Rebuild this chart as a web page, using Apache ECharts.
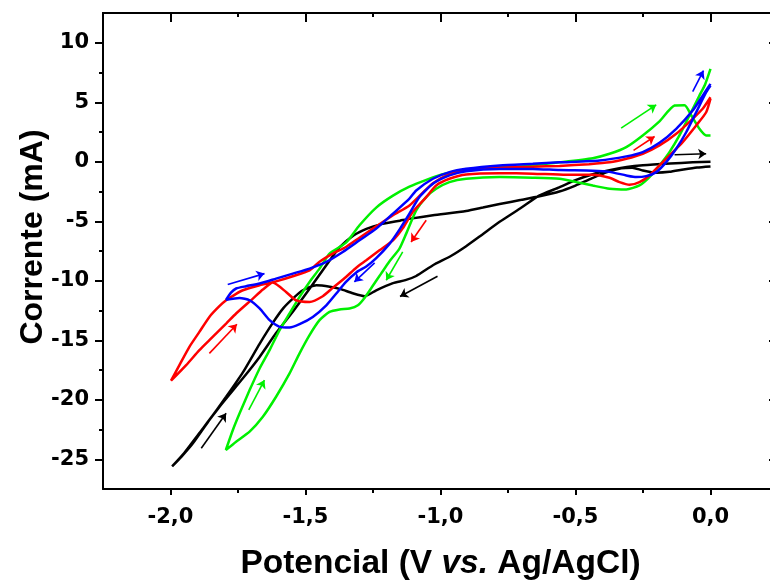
<!DOCTYPE html>
<html>
<head>
<meta charset="utf-8">
<title>Voltametria</title>
<script src="https://cdn.jsdelivr.net/npm/echarts@6/dist/echarts.min.js"></script>
<style>
    html,body{margin:0;padding:0;background:#fff;overflow:hidden;}
    #main{width:800px;height:580px;}
</style>
</head>
<body>
<div id="main"></div>
<script>
// [potencial (V), corrente (mA)] na ordem da varredura
const blackCV = [
    [0.0,0.0],[-0.066,-0.05],[-0.15,-0.15],[-0.25,-0.3],[-0.31,-0.45],[-0.37,-0.7],[-0.436,-1.05],[-0.5,-1.55],
    [-0.56,-2.15],[-0.633,-2.83],[-0.7,-3.85],[-0.781,-5.05],[-0.85,-6.2],[-0.905,-7.1],[-0.96,-7.9],[-1.028,-8.7],
    [-1.09,-9.6],[-1.13,-9.95],[-1.176,-10.2],[-1.238,-10.8],[-1.28,-11.3],[-1.325,-11.05],[-1.37,-10.7],[-1.41,-10.5],
    [-1.46,-10.38],[-1.51,-10.8],[-1.547,-11.5],[-1.582,-12.3],[-1.62,-13.5],[-1.67,-15.3],[-1.732,-17.7],[-1.794,-19.75],
    [-1.856,-21.7],[-1.917,-23.66],[-1.96,-24.8],[-1.994,-25.6],
    [-1.95,-24.5],[-1.893,-22.8],[-1.819,-20.6],[-1.732,-18.2],[-1.67,-16.4],[-1.609,-14.4],[-1.547,-12.6],[-1.485,-10.67],
    [-1.423,-8.7],[-1.374,-7.2],[-1.321,-6.18],[-1.272,-5.62],[-1.222,-5.26],[-1.15,-4.95],[-1.111,-4.78],[-1.028,-4.5],
    [-0.905,-4.14],[-0.843,-3.85],[-0.781,-3.55],[-0.7,-3.2],[-0.633,-2.9],[-0.56,-2.5],[-0.5,-2.0],[-0.44,-1.4],
    [-0.38,-0.85],[-0.33,-0.55],[-0.29,-0.5],[-0.251,-0.73],[-0.201,-0.92],[-0.152,-0.85],[-0.1,-0.65],[-0.05,-0.48],[0.0,-0.39]
];
const redCV = [
    [0.0,5.3],[-0.016,4.16],[-0.053,3.05],[-0.103,1.65],[-0.152,0.53],[-0.189,-0.31],[-0.226,-1.15],[-0.263,-1.71],
    [-0.3,-1.93],[-0.337,-1.71],[-0.374,-1.35],[-0.436,-1.1],[-0.535,-1.1],[-0.658,-1.0],[-0.781,-0.96],[-0.905,-1.07],
    [-0.967,-1.43],[-1.016,-1.99],[-1.053,-2.97],[-1.103,-4.23],[-1.14,-5.6],[-1.176,-6.6],[-1.226,-7.44],[-1.275,-8.28],
    [-1.312,-8.9],[-1.35,-9.68],[-1.399,-10.6],[-1.436,-11.3],[-1.485,-11.78],[-1.535,-11.64],[-1.572,-10.94],[-1.621,-10.15],
    [-1.658,-10.74],[-1.695,-11.5],[-1.757,-12.75],[-1.794,-13.6],[-1.856,-14.99],[-1.893,-15.83],[-1.942,-17.09],[-1.998,-18.4],
    [-1.967,-17.09],[-1.93,-15.55],[-1.893,-14.3],[-1.856,-13.04],[-1.819,-12.14],[-1.794,-11.64],
    [-1.757,-11.1],[-1.732,-10.8],[-1.67,-10.38],[-1.609,-10.05],[-1.547,-9.62],[-1.485,-9.12],[-1.448,-8.4],[-1.399,-7.72],
    [-1.35,-7.16],[-1.3,-6.38],[-1.238,-5.43],[-1.176,-4.5],[-1.115,-3.67],[-1.07,-2.7],[-1.028,-1.8],[-0.967,-1.05],
    [-0.905,-0.65],[-0.781,-0.48],[-0.658,-0.42],[-0.559,-0.35],[-0.45,-0.2],[-0.374,-0.05],[-0.312,0.25],[-0.251,0.67],
    [-0.189,1.37],[-0.127,2.35],[-0.066,3.61],[-0.029,4.45],[0.0,5.42]
];
const blueCV = [
    [0.0,6.4],[-0.016,5.84],[-0.053,4.16],[-0.09,2.48],[-0.127,1.09],[-0.164,-0.03],[-0.201,-0.87],[-0.238,-1.21],
    [-0.275,-1.29],[-0.312,-1.15],[-0.374,-0.85],[-0.436,-0.75],[-0.559,-0.7],[-0.658,-0.6],[-0.781,-0.6],[-0.905,-0.79],
    [-0.967,-1.15],[-1.028,-1.85],[-1.078,-2.97],[-1.115,-4.36],[-1.152,-5.7],[-1.189,-6.9],[-1.238,-8.1],[-1.275,-8.8],
    [-1.312,-9.3],[-1.35,-10.1],[-1.386,-11.07],[-1.423,-12.06],[-1.473,-13.04],[-1.522,-13.65],[-1.559,-13.93],[-1.596,-13.87],
    [-1.633,-13.31],[-1.67,-12.33],[-1.707,-11.64],[-1.744,-11.45],[-1.794,-11.6],
    [-1.776,-11.0],[-1.757,-10.65],[-1.72,-10.46],[-1.67,-10.23],[-1.609,-9.82],[-1.547,-9.4],[-1.485,-8.98],[-1.423,-8.42],
    [-1.362,-7.58],[-1.3,-6.6],[-1.238,-5.62],[-1.176,-4.36],[-1.115,-3.1],[-1.09,-2.41],[-1.028,-1.43],[-0.967,-0.87],
    [-0.905,-0.59],[-0.781,-0.31],[-0.658,-0.17],[-0.559,-0.05],[-0.411,0.11],[-0.312,0.45],[-0.251,0.81],[-0.189,1.59],
    [-0.127,2.77],[-0.066,4.3],[-0.029,5.56],[0.0,6.54]
];
const greenCV = [
    [0.0,7.8],[-0.02,6.5],[-0.041,5.56],[-0.078,3.89],[-0.115,2.21],[-0.152,0.81],[-0.189,-0.31],[-0.226,-1.29],
    [-0.263,-1.99],[-0.312,-2.33],[-0.374,-2.27],[-0.436,-2.0],[-0.497,-1.71],[-0.559,-1.43],[-0.658,-1.34],[-0.781,-1.29],
    [-0.905,-1.43],[-0.967,-1.71],[-1.016,-2.27],[-1.053,-2.97],[-1.09,-4.09],[-1.127,-6.04],[-1.152,-7.3],[-1.19,-8.4],
    [-1.22,-9.4],[-1.25,-10.4],[-1.28,-11.4],[-1.306,-12.06],[-1.337,-12.33],[-1.374,-12.41],[-1.411,-12.62],[-1.448,-13.31],
    [-1.485,-14.57],[-1.522,-16.1],[-1.559,-17.79],[-1.609,-19.75],[-1.658,-21.43],[-1.707,-22.68],[-1.757,-23.52],[-1.795,-24.22],
    [-1.769,-22.54],[-1.744,-21.14],[-1.707,-19.19],[-1.67,-17.37],[-1.633,-15.83],[-1.596,-14.15],[-1.559,-12.75],[-1.522,-11.36],
    [-1.485,-10.1],[-1.448,-8.98],[-1.411,-7.72],[-1.35,-6.8],[-1.3,-5.34],[-1.238,-3.85],[-1.176,-2.85],[-1.115,-2.1],
    [-1.05,-1.5],[-0.995,-1.07],[-0.9,-0.7],[-0.8,-0.5],[-0.68,-0.35],[-0.559,-0.05],[-0.436,0.3],[-0.374,0.67],
    [-0.312,1.23],[-0.251,2.21],[-0.189,3.4],[-0.133,4.72],[-0.096,4.75],[-0.071,3.89],[-0.041,2.77],[-0.016,2.21],[0.0,2.2]
];

// setas: [inicio, ponta]
const blackArrows = [[[-1.886,-24.08],[-1.794,-21.14]],[[-1.011,-9.62],[-1.15,-11.33]],[[-0.133,0.59],[-0.016,0.67]]];
const redArrows = [[[-1.856,-16.1],[-1.754,-13.65]],[[-1.053,-4.92],[-1.109,-6.74]],[[-0.285,0.95],[-0.207,2.12]]];
const blueArrows = [[[-1.788,-10.32],[-1.652,-9.4]],[[-1.244,-8.5],[-1.319,-10.1]],[[-0.066,5.9],[-0.026,7.66]]];
const greenArrows = [[[-1.71,-20.86],[-1.652,-18.35]],[[-1.14,-7.58],[-1.201,-9.96]],[[-0.331,2.82],[-0.201,4.78]]];

const xMajor = [-2.0,-1.5,-1.0,-0.5,0.0];
const xMinor = [-1.75,-1.25,-0.75,-0.25];
const yMajor = [-25,-20,-15,-10,-5,0,5,10];
const yMinor = [-22.5,-17.5,-12.5,-7.5,-2.5,2.5,7.5];

!(function(){
    const cv = {
        xRange:[-2.25,0.25],
        yRange:[-27.5,12.5],
        labelFont:{fontFamily:'DejaVu Sans',fontWeight:'bold',fontSize:21,color:'#000'},
        init(){
            this.chart = echarts.init(document.getElementById('main'),null,{renderer:'canvas'});
            this.chart.setOption({
                animation:false,
                backgroundColor:'#fff',
                grid:{left:103,top:13,right:22,bottom:91,containLabel:false,outerBoundsMode:'none'},
                xAxis:[
                    this.axis('bottom',this.xRange,xMajor,6,false,true),
                    this.axis('bottom',this.xRange,xMinor,4,false,false),
                    this.axis('top',this.xRange,xMajor,9,true,false),
                    this.axis('top',this.xRange,xMinor,4,true,false)
                ],
                yAxis:[
                    this.axis('left',this.yRange,yMajor,8,false,true),
                    this.axis('left',this.yRange,yMinor,4,false,false),
                    this.axis('right',this.yRange,yMajor,9,true,false),
                    this.axis('right',this.yRange,yMinor,4,true,false)
                ],
                series:[
                    this.curve(blackCV,'#000000'),
                    this.curve(greenCV,'#00f000'),
                    this.curve(redCV,'#ff0000'),
                    this.curve(blueCV,'#0000ff'),
                    this.arrows(blackArrows,'#000000'),
                    this.arrows(greenArrows,'#00f000'),
                    this.arrows(redArrows,'#ff0000'),
                    this.arrows(blueArrows,'#0000ff')
                ]
            });
        },
        axis(pos,range,ticks,len,inside,main){
            const isX = pos === 'bottom' || pos === 'top';
            const ax = {
                type:'value',
                position:pos,
                min:range[0],
                max:range[1],
                splitLine:{show:false},
                axisLine:{show:main || inside,onZero:false,lineStyle:{color:'#000',width:2}},
                axisTick:{show:true,inside:inside,length:len,customValues:ticks,lineStyle:{color:'#000',width:2}},
                axisLabel:{show:false}
            };
            if(main){
                ax.axisLabel = Object.assign({
                    show:true,
                    customValues:ticks,
                    margin:isX ? 18 : 14,
                    formatter:isX ? v => v.toFixed(1).replace('.',',') : v => String(v)
                },this.labelFont);
                ax.nameMoveOverlap = false;
                if(isX){
                    ax.name = '{n|Potencial (V }{i|vs.}{n| Ag/AgCl)}';
                    ax.nameLocation = 'middle';
                    ax.nameGap = 58;
                    ax.nameTextStyle = {rich:{
                        n:{fontFamily:'Liberation Sans',fontWeight:'bold',fontSize:33.5,color:'#000'},
                        i:{fontFamily:'Liberation Sans',fontWeight:'bold',fontStyle:'italic',fontSize:33.5,color:'#000'}
                    }};
                }else{
                    ax.name = 'Corrente (mA)';
                    ax.nameLocation = 'middle';
                    ax.nameGap = 54;
                    ax.nameRotate = 90;
                    ax.nameTextStyle = {fontFamily:'Liberation Sans',fontWeight:'bold',fontSize:32,color:'#000',padding:[0,0,0,28]};
                }
            }
            return ax;
        },
        curve(data,color){
            return {
                type:'line',
                data:data,
                showSymbol:false,
                smooth:0.2,
                lineStyle:{color:color,width:2.5},
                z:3
            };
        },
        arrows(list,color){
            return {
                type:'lines',
                coordinateSystem:'cartesian2d',
                symbol:['none','arrow'],
                symbolSize:8,
                lineStyle:{color:color,width:1.6,opacity:1},
                data:list.map(a => ({coords:a})),
                z:4
            };
        }
    };

    cv.init();
}());
</script>
</body>
</html>
